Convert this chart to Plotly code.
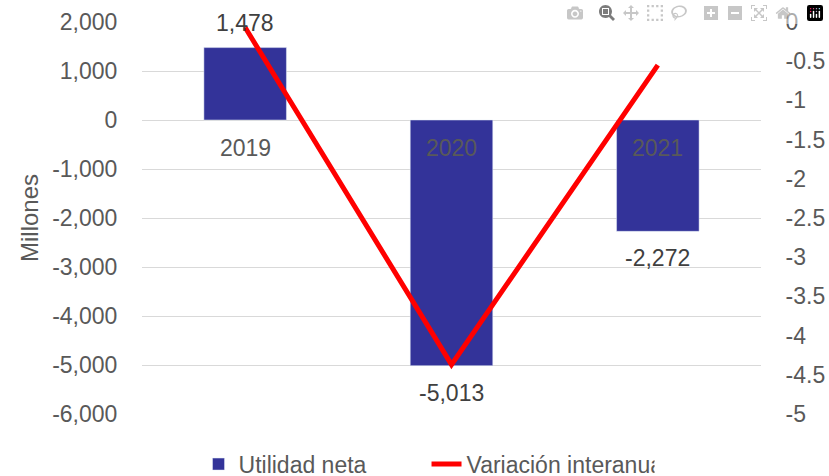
import plotly.graph_objects as go

years = ["2019", "2020", "2021"]
utilidad_neta = [1478, -5013, -2272]
variacion_interanual = [-0.07, -4.37, -0.55]
bar_labels = ["1,478", "-5,013", "-2,272"]

left_tickvals = [2000, 1000, 0, -1000, -2000, -3000, -4000, -5000, -6000]
left_ticktext = ["2,000", "1,000", "0", "-1,000", "-2,000", "-3,000", "-4,000", "-5,000", "-6,000"]
right_tickvals = [0, -0.5, -1, -1.5, -2, -2.5, -3, -3.5, -4, -4.5, -5]
right_ticktext = ["0", "-0.5", "-1", "-1.5", "-2", "-2.5", "-3", "-3.5", "-4", "-4.5", "-5"]

FONT = "Liberation Sans"
GRAY = "#595959"
FS = 23

fig = go.Figure()
fig.add_trace(go.Bar(
    x=years, y=utilidad_neta, name="Utilidad neta",
    marker_color="#333399",
))
fig.add_trace(go.Scatter(
    x=years, y=variacion_interanual, name="Variación interanual",
    mode="lines", line=dict(color="#FF0000", width=5),
    yaxis="y2",
))

# data labels (x given as category index)
for i, (v, t) in enumerate(zip(utilidad_neta, bar_labels)):
    fig.add_annotation(
        x=i, y=v, xref="x", yref="y", text=t, showarrow=False,
        yshift=25 if v > 0 else -27,
        font=dict(family=FONT, size=FS, color="#404040"),
    )
# category labels at the zero line
for i, yr in enumerate(years):
    fig.add_annotation(
        x=i, y=0, xref="x", yref="y", text=yr, showarrow=False,
        yshift=-28, font=dict(family=FONT, size=FS, color=GRAY),
    )

fig.update_layout(
    width=829, height=476,
    margin=dict(l=142, r=68, t=22, b=62, autoexpand=False),
    paper_bgcolor="white", plot_bgcolor="white",
    font=dict(family=FONT, size=FS, color=GRAY),
    bargap=0.6,
    legend=dict(
        orientation="h", xref="container", yref="container",
        x=0.5145, xanchor="center", y=0.025, yanchor="middle",
        entrywidth=183,
        font=dict(family=FONT, size=FS, color=GRAY),
    ),
    xaxis=dict(
        type="category", range=[-0.5, 2.5], autorange=False,
        showgrid=False, showline=False, zeroline=False, ticks="",
        showticklabels=False,
    ),
    yaxis=dict(
        range=[-6000, 2000], tickvals=left_tickvals, ticktext=left_ticktext,
        showgrid=True, gridcolor="#D9D9D9", gridwidth=1,
        zeroline=False, showline=False, automargin=False,
        ticks="outside", ticklen=19, tickcolor="rgba(0,0,0,0)",
        title=dict(text="Millones", font=dict(family=FONT, size=24, color=GRAY), standoff=6),
        tickfont=dict(family=FONT, size=FS, color=GRAY),
    ),
    yaxis2=dict(
        range=[-5, 0], tickvals=right_tickvals, ticktext=right_ticktext,
        overlaying="y", side="right", showgrid=False, zeroline=False,
        showline=False, automargin=False,
        ticks="outside", ticklen=19, tickcolor="rgba(0,0,0,0)",
        tickfont=dict(family=FONT, size=FS, color=GRAY),
    ),
)

fig.write_html("out.html", post_script="document.body.style.margin='0px';")
